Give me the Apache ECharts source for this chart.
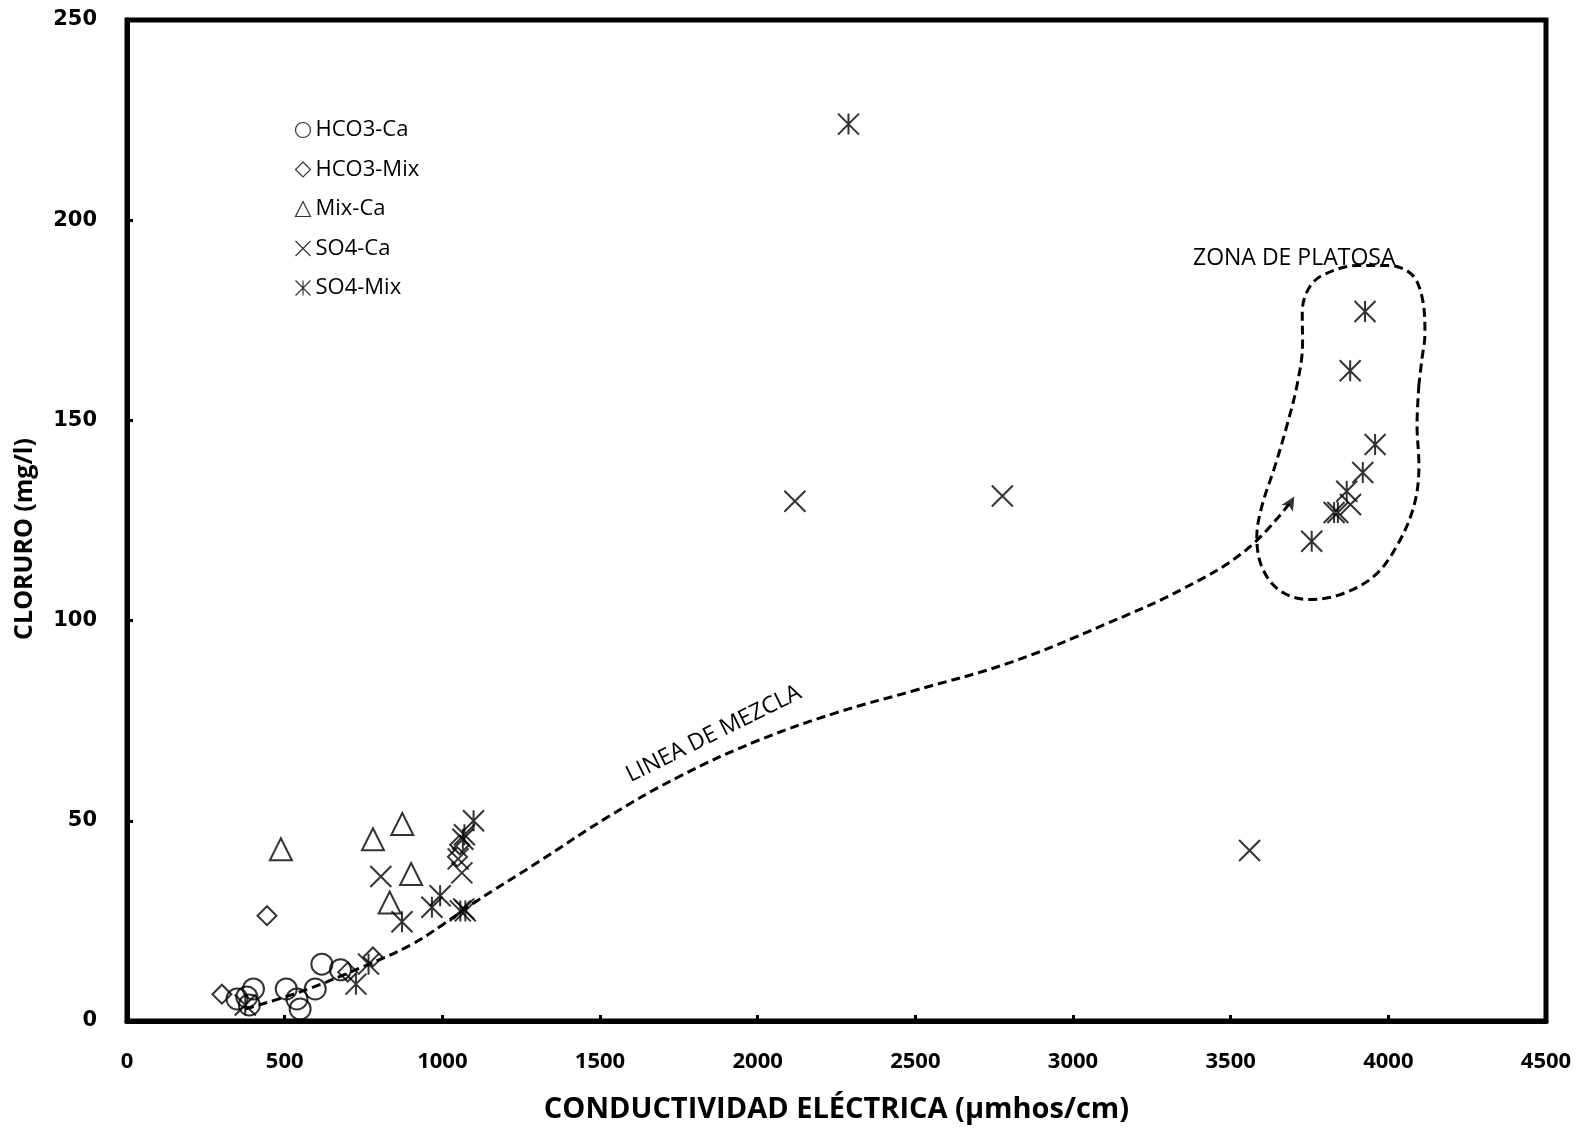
<!DOCTYPE html>
<html>
<head>
<meta charset="utf-8">
<style>
  html, body { margin: 0; padding: 0; background: #fff; }
  #chart { width: 1589px; height: 1129px; }
</style>
<script src="https://cdn.jsdelivr.net/npm/echarts@6/dist/echarts.min.js"></script>
</head>
<body>
<div id="chart"></div>
<script>
// Conductividad eléctrica (µmhos/cm) vs. cloruro (mg/l), by water facies
const hco3Ca = [[349,5.5],[380,6],[388,4],[401,8],[505,8],[539,5.5],[549,3],[597,8],[618,14.2],[677,12.8]];
const hco3Mix = [[301,6.7],[444,26.3],[700,12.2],[780,16],[1048,41],[1055,44]];
const mixCa = [[488,42.9],[780,45.4],[873,49.2],[901,36.7],[833,29.6]];
const so4Ca = [[805,36.1],[1050,40.5],[1062,37],[1068,28],[2118,129.8],[2776,131.1],[3560,42.6],[3880,129]];
const so4Mix = [[375,4],[726,9.2],[766,14.2],[872,24.8],[967,28.4],[993,31.3],[1057,27.5],[1073,27.5],
  [1065,45.4],[1070,46.5],[1099,50],[2288,224],[3757,119.8],[3828,127],[3840,127],[3868,132.3],
  [3919,137],[3958,144],[3879,162.4],[3926,177.2]];

// Hand-drawn mixing trend and the Platosa zone outline, in data units
const mixingLine = [[375,3],[550,7.3],[750,13.6],[900,19],[1000,24],[1100,29.5],[1300,39.5],
  [1526,51],[1750,61],[2000,70],[2250,77],[2500,82.6],[2800,89.5],[3100,99],[3350,108],
  [3550,117.7],[3690,129.6]];
const arrowTip = [[3702,131]];
const platosaZone = [[4097,159],[4091,148.9],[4097,138.7],[4081,128.6],[4026,118.5],[3952,110.9],
  [3840,106.3],[3744,105.3],[3654,107.6],[3599,113.4],[3583,121],[3599,128.6],[3641,138.7],
  [3679,148.9],[3711,159],[3728,169.1],[3727,177],[3745,182.6],[3790,186.2],[3904,188.7],
  [4001,188.7],[4075,186.4],[4108,180.4],[4116,171.6],[4106,165],[4097,159]];

const xTicks = { min: 0, max: 4500, interval: 500 };
const yTicks = { min: 0, max: 250, interval: 50 };
const seriesNames = ['HCO3-Ca', 'HCO3-Mix', 'Mix-Ca', 'SO4-Ca', 'SO4-Mix'];

const SYM_X = 'path://M0,0L10,10M10,0L0,10';
const SYM_STAR = 'path://M0,0L10,10M10,0L0,10M5,0L5,10';

const openMarker = { color: 'rgba(255,255,255,0)', borderColor: '#000', borderWidth: 2 };
const lineMarker = { color: 'none', borderColor: '#000', borderWidth: 2 };
const dashed = { color: '#000', width: 3, type: [9, 5] };

const chart = echarts.init(document.getElementById('chart'), null, { renderer: 'canvas' });

chart.setOption({
  backgroundColor: '#fff',
  animation: false,
  grid: { left: 127, right: 43, top: 20, bottom: 107, show: true, borderColor: '#000', borderWidth: 5 },
  legend: {
    data: seriesNames,
    orient: 'vertical',
    left: 288,
    top: 114,
    itemWidth: 15,
    itemHeight: 15,
    itemGap: 17.5,
    textStyle: { fontFamily: 'Open Sans', fontSize: 22, color: '#000', lineHeight: 22 },
    itemStyle: { borderWidth: 1.2 }
  },
  xAxis: {
    type: 'value',
    min: xTicks.min, max: xTicks.max, interval: xTicks.interval,
    name: 'CONDUCTIVIDAD ELÉCTRICA (µmhos/cm)',
    nameLocation: 'middle',
    nameGap: 74,
    nameTextStyle: { fontFamily: 'Open Sans', fontWeight: 'bold', fontSize: 29, color: '#000' },
    axisLine: { lineStyle: { color: '#000', width: 5 } },
    axisTick: { inside: true, length: 6, lineStyle: { color: '#000', width: 3 } },
    axisLabel: {
      margin: 30, fontFamily: 'Open Sans', fontWeight: 'bold', fontSize: 22, color: '#000',
      formatter: v => String(v)
    },
    splitLine: { show: false }
  },
  yAxis: {
    type: 'value',
    min: yTicks.min, max: yTicks.max, interval: yTicks.interval,
    axisLine: { lineStyle: { color: '#000', width: 5 } },
    axisTick: { inside: true, length: 6, lineStyle: { color: '#000', width: 3 } },
    axisLabel: { margin: 30, fontFamily: 'DejaVu Sans', fontWeight: 'bold', fontSize: 21, color: '#000' },
    splitLine: { show: false }
  },
  series: [
    {
      name: 'mezcla', type: 'line', data: mixingLine, smooth: 0.4, symbol: 'none',
      silent: true, lineStyle: dashed, z: 1
    },
    {
      name: 'flecha', type: 'scatter', data: arrowTip, symbol: 'arrow', symbolSize: [10, 14],
      symbolRotate: -31, itemStyle: { color: '#000' }, silent: true, z: 1
    },
    {
      name: 'platosa', type: 'line', data: platosaZone, smooth: 0.35, symbol: 'none', silent: true,
      lineStyle: dashed, z: 1
    },
    { name: 'HCO3-Ca', type: 'scatter', data: hco3Ca, symbol: 'circle', symbolSize: 21, itemStyle: openMarker, z: 3 },
    { name: 'HCO3-Mix', type: 'scatter', data: hco3Mix, symbol: 'diamond', symbolSize: 19, itemStyle: openMarker, z: 3 },
    { name: 'Mix-Ca', type: 'scatter', data: mixCa, symbol: 'triangle', symbolSize: 22, itemStyle: openMarker, z: 3 },
    { name: 'SO4-Ca', type: 'scatter', data: so4Ca, symbol: SYM_X, symbolSize: 21, itemStyle: lineMarker, z: 3 },
    { name: 'SO4-Mix', type: 'scatter', data: so4Mix, symbol: SYM_STAR, symbolSize: 21, itemStyle: lineMarker, z: 3 }
  ]
});

// Free-standing texts: y title, zone name, and the label along the mixing trend
const labelPos = chart.convertToPixel({ gridIndex: 0 }, [1861, 71.7]);
chart.setOption({
  graphic: [
    {
      type: 'text', x: 25, y: 539, rotation: Math.PI / 2, silent: true,
      style: { text: 'CLORURO (mg/l)', fontFamily: 'Open Sans', fontWeight: 'bold', fontSize: 25, fill: '#000', align: 'center', verticalAlign: 'middle' }
    },
    {
      type: 'text', left: 1193, top: 247, silent: true,
      style: { text: 'ZONA DE PLATOSA', fontFamily: 'Open Sans', fontSize: 23, fill: '#000' }
    },
    {
      type: 'text', x: labelPos[0], y: labelPos[1], rotation: 26.3 * Math.PI / 180, silent: true,
      style: { text: 'LINEA DE MEZCLA', fontFamily: 'Open Sans', fontSize: 23, fill: '#000', align: 'center', verticalAlign: 'middle' }
    }
  ]
});
</script>
</body>
</html>
